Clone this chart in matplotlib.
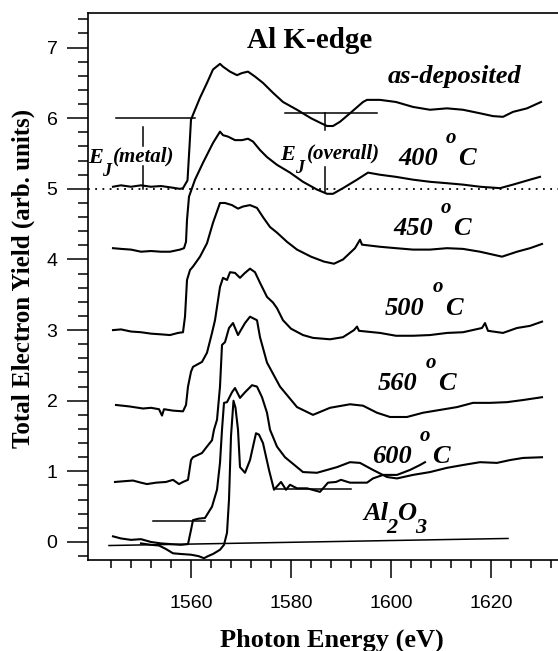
import matplotlib
matplotlib.use("Agg")
import matplotlib.pyplot as plt
import numpy as np

# photon energy (eV) / total electron yield (arb. units)
asdep_x = [1544.4, 1546, 1548, 1550, 1552, 1554, 1556, 1557.8, 1558.4, 1559.3, 1559.7, 1560.0,
           1560.4, 1561.8, 1563.2, 1564.4, 1565.8, 1566.4, 1567.8, 1569.2, 1570.2, 1571.4,
           1572.8, 1574.4, 1576.4, 1578.4, 1581.2, 1584, 1586, 1587.2, 1588.4, 1589.8, 1591.8,
           1594.4, 1595.2, 1597.8, 1601, 1604.4, 1607.8, 1611.2, 1614.4, 1617.8, 1620.4,
           1622.4, 1624.4, 1627.2, 1630]
asdep_y = [5.03, 5.05, 5.03, 5.05, 5.03, 5.04, 5.02, 5.00, 5.01, 5.12, 5.6, 5.98,
           6.05, 6.29, 6.5, 6.69, 6.77, 6.73, 6.66, 6.61, 6.64, 6.66,
           6.59, 6.5, 6.36, 6.23, 6.12, 6.0, 5.93, 5.89, 5.89, 5.95, 6.07,
           6.23, 6.26, 6.26, 6.23, 6.16, 6.12, 6.14, 6.12, 6.07, 6.03,
           6.02, 6.09, 6.14, 6.23]

t400_x = [1544.4, 1546, 1548, 1550, 1552, 1554, 1555.8, 1557.8, 1558.6, 1559.0, 1559.2, 1559.6,
          1560.2, 1560.8, 1562.4, 1564.4, 1565.8, 1566.4, 1567.4, 1568.8, 1570.2, 1571.4,
          1572.4, 1573.8, 1575.2, 1577.2, 1579.8, 1582.4, 1585.2, 1587.2, 1588.4, 1590.4,
          1593.2, 1595.4, 1597.8, 1601, 1604.4, 1607.8, 1611.2, 1614.4, 1617.8, 1621.8,
          1624.4, 1627.8, 1629.8]
t400_y = [4.16, 4.15, 4.14, 4.11, 4.12, 4.11, 4.11, 4.14, 4.16, 4.25, 4.56, 4.89,
          5.01, 5.13, 5.37, 5.65, 5.81, 5.76, 5.74, 5.69, 5.69, 5.71,
          5.67, 5.55, 5.45, 5.34, 5.23, 5.1, 4.99, 4.93, 4.93, 5.01,
          5.13, 5.23, 5.2, 5.17, 5.13, 5.1, 5.08, 5.06, 5.03, 5.01,
          5.06, 5.13, 5.17]

t450_x = [1544.4, 1546, 1548, 1550, 1552, 1554, 1555.8, 1557.4, 1558.4, 1558.8, 1559.2, 1559.8,
          1560.4, 1561.8, 1563.2, 1564.4, 1565.8, 1566.8, 1568.2, 1569.4, 1570.4, 1571.8,
          1573.2, 1574.4, 1575.8, 1577.2, 1579.2, 1581.2, 1584, 1586.6, 1588.6, 1590.4,
          1592.8, 1593.8, 1594.2, 1597.8, 1601, 1604.4, 1607.8, 1611.2, 1614.4, 1617.8,
          1622.2, 1625.2, 1627.8, 1630.2]
t450_y = [3.0, 3.01, 2.98, 2.97, 2.95, 2.94, 2.93, 2.96, 2.97, 3.19, 3.71, 3.85,
          3.9, 4.04, 4.23, 4.52, 4.8, 4.8, 4.77, 4.72, 4.75, 4.77,
          4.73, 4.6, 4.46, 4.38, 4.25, 4.14, 4.04, 3.97, 3.94, 4.0,
          4.16, 4.28, 4.21, 4.18, 4.16, 4.14, 4.14, 4.16, 4.15, 4.11,
          4.04, 4.11, 4.16, 4.22]

t500_x = [1545, 1547.6, 1550.4, 1552, 1553.6, 1554.2, 1554.6, 1556.4, 1558.4, 1559.0, 1559.4,
          1560.0, 1560.4, 1562.2, 1563.2, 1564.2, 1564.8, 1565.8, 1566.4, 1567.2, 1567.8,
          1568.8, 1569.8, 1570.8, 1571.8, 1572.8, 1573.8, 1575.2, 1576.4, 1577.2, 1578.4,
          1580, 1582.4, 1584.4, 1587.8, 1590.4, 1592.6, 1593.2, 1593.6, 1597.8, 1601,
          1604.4, 1607.8, 1611.2, 1614.4, 1618.2, 1618.8, 1619.4, 1622.4, 1625.2, 1627.8,
          1630.2]
t500_y = [1.94, 1.92, 1.89, 1.9, 1.88, 1.79, 1.88, 1.86, 1.85, 1.94, 2.2,
          2.41, 2.48, 2.55, 2.68, 2.96, 3.14, 3.61, 3.74, 3.71, 3.82,
          3.81, 3.74, 3.81, 3.87, 3.82, 3.67, 3.47, 3.39, 3.31, 3.14,
          3.02, 2.93, 2.89, 2.87, 2.9, 3.0, 3.05, 2.99, 2.96, 2.92,
          2.92, 2.93, 2.96, 2.97, 3.03, 3.1, 2.99, 2.96, 3.03, 3.06,
          3.12]

t560_x = [1544.8, 1546.5, 1548.4, 1550, 1551.2, 1553, 1555, 1556.4, 1557.6, 1558.4, 1559.4,
          1560.0, 1560.4, 1562.2, 1563.4, 1564.2, 1564.6, 1565.2, 1565.8, 1566.2, 1566.8,
          1567.6, 1568.4, 1569.4, 1570.8, 1571.8, 1573.2, 1573.8, 1575.2, 1577.8, 1581.2,
          1584.4, 1587.8, 1591.8, 1594.4, 1597.2, 1599.8, 1603.2, 1606.4, 1609.8, 1613.2,
          1616.4, 1619.8, 1623.2, 1626.4, 1630.2]
t560_y = [0.85, 0.86, 0.87, 0.84, 0.82, 0.84, 0.85, 0.88, 0.82, 0.85, 0.88,
          1.16, 1.2, 1.26, 1.37, 1.44, 1.59, 1.73, 2.2, 2.79, 2.83,
          3.03, 3.1, 2.93, 3.1, 3.19, 3.14, 2.9, 2.54, 2.2, 1.91,
          1.8, 1.9, 1.95, 1.93, 1.83, 1.77, 1.77, 1.83, 1.87, 1.91,
          1.97, 1.97, 1.98, 2.01, 2.05]

t600_x = [1544.4, 1546, 1548, 1550, 1552, 1554, 1556, 1558, 1559.4, 1560.0, 1560.4, 1561.5,
          1562.8, 1564.2, 1565.2, 1565.8, 1566.2, 1566.6, 1567.2, 1568.2, 1568.8, 1569.8,
          1570.8, 1572.2, 1573.2, 1574.2, 1575.2, 1575.8, 1577.2, 1578.8, 1582.4, 1585.2,
          1589.2, 1591.8, 1593.8, 1596.4, 1599.2, 1601.2, 1604.4, 1607.8, 1611.2, 1614.4,
          1617.8, 1621.2, 1623.8, 1626.4, 1630.2]
t600_y = [0.08, 0.05, 0.03, 0.04, 0.0, -0.02, -0.03, -0.04, -0.03, 0.17, 0.31, 0.33,
          0.34, 0.5, 0.74, 1.12, 1.59, 1.97, 1.98, 2.12, 2.18, 2.04,
          2.12, 2.22, 2.2, 2.05, 1.83, 1.59, 1.35, 1.2, 0.99, 0.98,
          1.06, 1.13, 1.12, 1.02, 0.92, 0.9, 0.95, 0.99, 1.05, 1.09,
          1.13, 1.12, 1.16, 1.19, 1.2]

al2o3_x = [1550, 1552, 1553.6, 1555, 1556.4, 1558, 1560, 1561.5, 1562.6, 1563.4, 1564.4,
           1565.8, 1566.6, 1567.2, 1567.6, 1568.0, 1568.5, 1568.9, 1569.4, 1569.8, 1570.8,
           1571.8, 1573.0, 1573.6, 1574.4, 1575.6, 1576.6, 1578, 1579, 1579.8, 1581.2,
           1583.2, 1585.8, 1587.4, 1589, 1590, 1591.8, 1593.8, 1595.2, 1596.4, 1598.4,
           1601.2, 1603.8, 1605.8, 1606.8]
al2o3_y = [-0.02, -0.04, -0.05, -0.1, -0.16, -0.17, -0.18, -0.2, -0.23, -0.2, -0.17,
           -0.11, -0.04, 0.13, 0.6, 1.5, 2.0, 1.9, 1.59, 1.06, 0.98,
           1.16, 1.54, 1.52, 1.4, 1.02, 0.74, 0.85, 0.74, 0.81, 0.76,
           0.76, 0.71, 0.84, 0.85, 0.88, 0.84, 0.84, 0.84, 0.9, 0.95,
           0.95, 1.02, 1.09, 1.13]

curves = [(asdep_x, asdep_y), (t400_x, t400_y), (t450_x, t450_y), (t500_x, t500_y),
          (t560_x, t560_y), (t600_x, t600_y), (al2o3_x, al2o3_y)]

# reference lines drawn on the figure
ref_level = 5.0
al_baseline_x = [1543.6, 1623.4]
al_baseline_y = [-0.05, 0.05]
metal_hline = ([1545, 1560.8], 6.0)
metal_vx = 1550.5
metal_vsegs = [(5.0, 5.32), (5.6, 5.88)]
overall_hline = ([1578.8, 1597.2], 6.07)
overall_vx = 1586.8
overall_vsegs = [(4.95, 5.31), (5.83, 6.07)]
al_lo_hline = ([1552.4, 1562.8], 0.3)
al_hi_hline = ([1577.0, 1592.0], 0.75)

temp_labels = ["400", "450", "500", "560", "600"]

SERIF = "Liberation Serif"
SANS = "Liberation Sans"

fig = plt.figure(figsize=(5.58, 6.51), dpi=100)
ax = fig.add_axes([88 / 558, 1 - 560 / 651, 470 / 558, 547 / 651])

for x, y in curves:
    ax.plot(x, y, color="black", lw=1.5, solid_joinstyle="round")

ax.axhline(ref_level, color="black", lw=1.3, ls=(0, (1, 3)))
ax.plot(al_baseline_x, al_baseline_y, color="black", lw=1.1)
for xs, yv in (metal_hline, overall_hline, al_lo_hline, al_hi_hline):
    ax.plot(xs, [yv, yv], color="black", lw=1.1)
for y0, y1 in metal_vsegs:
    ax.plot([metal_vx, metal_vx], [y0, y1], color="black", lw=1.1)
for y0, y1 in overall_vsegs:
    ax.plot([overall_vx, overall_vx], [y0, y1], color="black", lw=1.1)

ax.set_xlim(1539.4, 1633.4)
ax.set_ylim(-0.255, 7.49)
ax.set_xticks([1560, 1580, 1600, 1620])
ax.set_xticks(np.arange(1544, 1633, 4), minor=True)
ax.set_yticks(range(0, 8))
ax.set_yticks(np.arange(-0.2, 7.5, 0.2), minor=True)
ax.tick_params(axis="x", which="major", direction="out", length=13, width=1.1, pad=12,
               labelsize=14)
ax.tick_params(axis="x", which="minor", direction="out", length=6, width=1.1)
ax.tick_params(axis="y", which="major", direction="out", length=15, width=1.1, pad=7,
               labelsize=14)
ax.tick_params(axis="y", which="minor", direction="out", length=7, width=1.1)
for lab in ax.get_xticklabels() + ax.get_yticklabels():
    lab.set_fontfamily(SANS)
ax.spines["right"].set_visible(False)
for s in ("left", "top", "bottom"):
    ax.spines[s].set_linewidth(1.2)


def put(x, y, s, dx=0, dy=0, size=19, style="italic", ha="left"):
    ax.annotate(s, (x, y), xytext=(dx, dy), textcoords="offset points", ha=ha,
                va="baseline", fontfamily=SERIF, fontweight="bold", fontstyle=style,
                fontsize=size)


put(1583.8, 7.0, "Al K-edge", size=21, style="normal", ha="center")
put(1599.4, 6.5, "as-deposited")

temp_pos = [(1601.4, 5.34), (1600.4, 4.35), (1598.8, 3.22), (1597.4, 2.15), (1596.2, 1.12)]
for lab, (x, y) in zip(temp_labels, temp_pos):
    put(x, y, lab)
    put(x, y, "o", dx=34, dy=16, size=15)
    put(x, y, "C", dx=43)

put(1594.4, 0.31, "Al")
put(1594.4, 0.31, "2", dx=17, dy=-9.5, size=16)
put(1594.4, 0.31, "O", dx=24.5)
put(1594.4, 0.31, "3", dx=37.4, dy=-9.5, size=16)

put(1539.4, 5.37, "E", size=16)
put(1539.4, 5.37, "J", dx=10, dy=-9.5, size=13)
put(1539.4, 5.37, "(metal)", dx=18, dy=1, size=15)
put(1577.8, 5.41, "E", size=16)
put(1577.8, 5.41, "J", dx=10.5, dy=-9.5, size=13)
put(1577.8, 5.41, "(overall)", dx=19.4, dy=1, size=15)

fig.text(332 / 558, 1 - 640 / 651, "Photon Energy (eV)", ha="center", va="center",
         fontfamily=SERIF, fontweight="bold", fontsize=19)
fig.text(23 / 558, 1 - 278 / 651, "Total Electron Yield (arb. units)", ha="center",
         va="center", rotation=90, fontfamily=SERIF, fontweight="bold", fontsize=18)

fig.savefig("out.png", dpi=100)
